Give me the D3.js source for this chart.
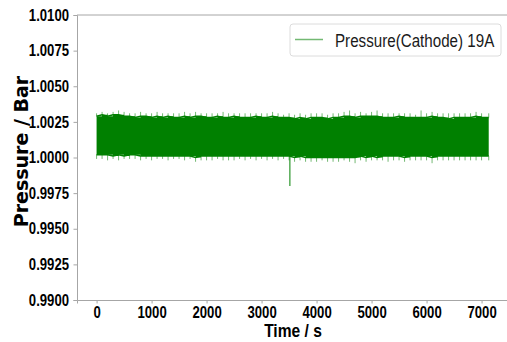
<!DOCTYPE html>
<html><head><meta charset="utf-8">
<script src="https://cdn.jsdelivr.net/npm/d3@7"></script>
<style>
html,body{margin:0;padding:0;background:#fff;}
svg{display:block;}
.tick text{font-family:"Liberation Sans",Arial,sans-serif;font-weight:bold;font-size:16px;fill:#000;}
</style></head>
<body><svg id="chart" width="507" height="342"></svg>
<script>
// ---- data ----
const seriesName = "Pressure(Cathode) 19A";
const times = [0,100,200,300,400,500,600,700,800,900,
  1000,1100,1200,1300,1400,1500,1600,1700,1800,1900,
  2000,2100,2200,2300,2400,2500,2600,2700,2800,2900,
  3000,3100,3200,3300,3400,3500,3600,3700,3800,3900,
  4000,4100,4200,4300,4400,4500,4600,4700,4800,4900,
  5000,5100,5200,5300,5400,5500,5600,5700,5800,5900,
  6000,6100,6200,6300,6400,6500,6600,6700,6800,6900,
  7000,7130];
const bandHigh = [1.0029,1.0030,1.0029,1.0030,1.0030,1.0029,1.0029,1.0028,1.0029,1.0029,
  1.0028,1.0029,1.0028,1.0029,1.0028,1.0028,1.0029,1.0028,1.0029,1.0029,
  1.0028,1.0028,1.0029,1.0028,1.0028,1.0029,1.0028,1.0028,1.0028,1.0029,
  1.0028,1.0028,1.0029,1.0028,1.0028,1.0028,1.0027,1.0028,1.0027,1.0028,
  1.0028,1.0028,1.0027,1.0028,1.0028,1.0029,1.0029,1.0028,1.0029,1.0029,
  1.0029,1.0029,1.0028,1.0028,1.0028,1.0029,1.0028,1.0028,1.0028,1.0028,
  1.0028,1.0029,1.0028,1.0028,1.0027,1.0028,1.0028,1.0028,1.0028,1.0029,
  1.0028,1.0028];
const peakHigh = [1.0031,1.0032,1.0031,1.0032,1.0033,1.0032,1.0031,1.0031,1.0032,1.0031,
  1.0031,1.0032,1.0031,1.0031,1.0031,1.0031,1.0032,1.0031,1.0032,1.0031,
  1.0031,1.0031,1.0031,1.0032,1.0031,1.0031,1.0031,1.0031,1.0031,1.0031,
  1.0031,1.0031,1.0032,1.0031,1.0030,1.0031,1.0030,1.0031,1.0030,1.0031,
  1.0031,1.0031,1.0030,1.0031,1.0031,1.0032,1.0033,1.0031,1.0032,1.0031,
  1.0032,1.0033,1.0031,1.0031,1.0031,1.0031,1.0031,1.0031,1.0030,1.0033,
  1.0031,1.0032,1.0031,1.0031,1.0031,1.0031,1.0031,1.0031,1.0031,1.0032,
  1.0031,1.0031];
const bandLow = [1.0002,1.0002,1.0002,1.0001,1.0002,1.0001,1.0002,1.0002,1.0001,1.0001,
  1.0001,1.0001,1.0001,1.0001,1.0001,1.0001,1.0001,1.0001,1.0000,1.0001,
  1.0001,1.0001,1.0001,1.0001,1.0001,1.0001,1.0001,1.0001,1.0001,1.0001,
  1.0001,1.0001,1.0001,1.0001,1.0001,1.0001,1.0000,1.0001,1.0000,1.0000,
  1.0000,1.0000,1.0000,1.0000,1.0000,1.0000,1.0000,1.0000,1.0001,1.0000,
  1.0001,1.0000,1.0001,1.0001,1.0001,1.0001,1.0000,1.0001,1.0001,1.0001,
  1.0001,1.0000,1.0001,1.0001,1.0001,1.0001,1.0001,1.0001,1.0001,1.0001,
  1.0001,1.0001];
const peakLow = [0.9999,0.9999,0.9998,0.9999,0.9998,0.9999,0.9999,0.9999,0.9998,0.9999,
  0.9998,0.9999,0.9999,0.9998,0.9999,0.9999,0.9998,0.9999,0.9997,0.9998,
  0.9998,0.9998,0.9999,0.9998,0.9998,0.9998,0.9999,0.9998,0.9999,0.9998,
  0.9999,0.9998,0.9999,0.9998,0.9999,0.9998,0.9997,0.9998,0.9997,0.9997,
  0.9997,0.9998,0.9997,0.9997,0.9997,0.9998,0.9997,0.9996,0.9998,0.9997,
  0.9998,0.9998,0.9998,0.9997,0.9998,0.9998,0.9997,0.9998,0.9998,0.9998,
  0.9998,0.9996,0.9998,0.9998,0.9998,0.9998,0.9998,0.9998,0.9998,0.9998,
  0.9998,0.9998];
const spikeTime = [3515, 3515];
const spikeValue = [1.0001, 0.9980];
const xTicks = [0,1000,2000,3000,4000,5000,6000,7000];
const yTicks = [0.9900,0.9925,0.9950,0.9975,1.0000,1.0025,1.0050,1.0075,1.0100];
const xDomain = [-356, 7486];
const yDomain = [0.99, 1.01];

// ---- layout ----
const svg = d3.select("#chart");
const mLeft = 77, mRight = 508.3, mTop = 15, mBottom = 300;
const x = d3.scaleLinear().domain(xDomain).range([mLeft, mRight]);
const y = d3.scaleLinear().domain(yDomain).range([mBottom, mTop]);
const green = "#008000";
const axisGray = "#a6a6a6";
const narrow = 0.82;
function condense(sel, f){
  sel.each(function(){
    const w = this.getComputedTextLength();
    d3.select(this).attr("textLength", w*f).attr("lengthAdjust","spacingAndGlyphs");
  });
}

const rows = times.map((t,i)=>({t, hi:bandHigh[i], lo:bandLow[i], ph:peakHigh[i], pl:peakLow[i]}));

const plot = svg.append("g");
plot.selectAll("line.up").data(rows).enter().append("line")
  .attr("x1", d=>x(d.t)).attr("x2", d=>x(d.t))
  .attr("y1", d=>y(d.hi)).attr("y2", d=>y(d.ph))
  .attr("stroke", green).attr("stroke-opacity", 0.55).attr("stroke-width", 1);
plot.selectAll("line.dn").data(rows).enter().append("line")
  .attr("x1", d=>x(d.t)).attr("x2", d=>x(d.t))
  .attr("y1", d=>y(d.lo)).attr("y2", d=>y(d.pl))
  .attr("stroke", green).attr("stroke-opacity", 0.55).attr("stroke-width", 1);
plot.append("path").datum(rows)
  .attr("d", d3.area().x(d=>x(d.t)).y0(d=>y(d.lo)).y1(d=>y(d.hi)).curve(d3.curveStepAfter))
  .attr("fill", green);
plot.append("path").datum(rows)
  .attr("d", d3.line().x(d=>x(d.t)).y(d=>y(d.hi)))
  .attr("fill","none").attr("stroke", green).attr("stroke-width", 1.5);
plot.append("path").datum(rows)
  .attr("d", d3.line().x(d=>x(d.t)).y(d=>y(d.lo)))
  .attr("fill","none").attr("stroke", green).attr("stroke-width", 1.5);
plot.append("path").datum(spikeTime.map((t,i)=>[t, spikeValue[i]]))
  .attr("d", d3.line().x(d=>x(d[0])).y(d=>y(d[1])))
  .attr("stroke", green).attr("stroke-width", 1).attr("fill","none");

// axes
const gx = svg.append("g").attr("transform", `translate(0,${mBottom})`)
  .call(d3.axisBottom(x).tickValues(xTicks).tickFormat(d3.format("d")).tickSizeOuter(0).tickSize(3.5).tickPadding(3.5));
const gy = svg.append("g").attr("transform", `translate(${mLeft},0)`)
  .call(d3.axisLeft(y).tickValues(yTicks).tickFormat(d3.format(".4f")).tickSizeOuter(0).tickSize(3.5).tickPadding(4.5));
[gx, gy].forEach(g=>{
  g.select(".domain").attr("stroke", axisGray).attr("stroke-width", 1);
  g.selectAll(".tick line").attr("stroke", axisGray);
  condense(g.selectAll(".tick text"), narrow);
});
svg.append("line").attr("x1", mLeft).attr("x2", mRight).attr("y1", mTop).attr("y2", mTop)
  .attr("stroke", axisGray).attr("stroke-width", 1);

// axis labels
const xl = svg.append("text").attr("x", 293).attr("y", 337)
  .attr("text-anchor","middle")
  .style("font-family",'"Liberation Sans",Arial,sans-serif')
  .style("font-weight","bold").style("font-size","19px").text("Time / s");
condense(xl, narrow);
svg.append("text").attr("transform","translate(28,151.5) rotate(-90)")
  .attr("text-anchor","middle")
  .style("font-family",'"DejaVu Sans",sans-serif')
  .style("font-weight","bold").style("font-size","19px").text("Pressure / Bar");

// legend
const lg = svg.append("g");
lg.append("rect").attr("x",290).attr("y",24).attr("width",211).attr("height",32).attr("rx",3)
  .attr("fill","#fff").attr("fill-opacity",0.8).attr("stroke","#dcdcdc");
lg.append("line").attr("x1",295).attr("x2",323).attr("y1",39.5).attr("y2",39.5)
  .attr("stroke", green).attr("stroke-opacity",0.55).attr("stroke-width",1.5);
lg.append("g").attr("transform", `translate(335,46.5) scale(${narrow},1)`)
  .append("text").attr("x",0).attr("y",0)
  .style("font-family",'"Liberation Sans",Arial,sans-serif')
  .style("font-size","18.5px").attr("fill","#1a1a1a").text(seriesName);
</script></body></html>
